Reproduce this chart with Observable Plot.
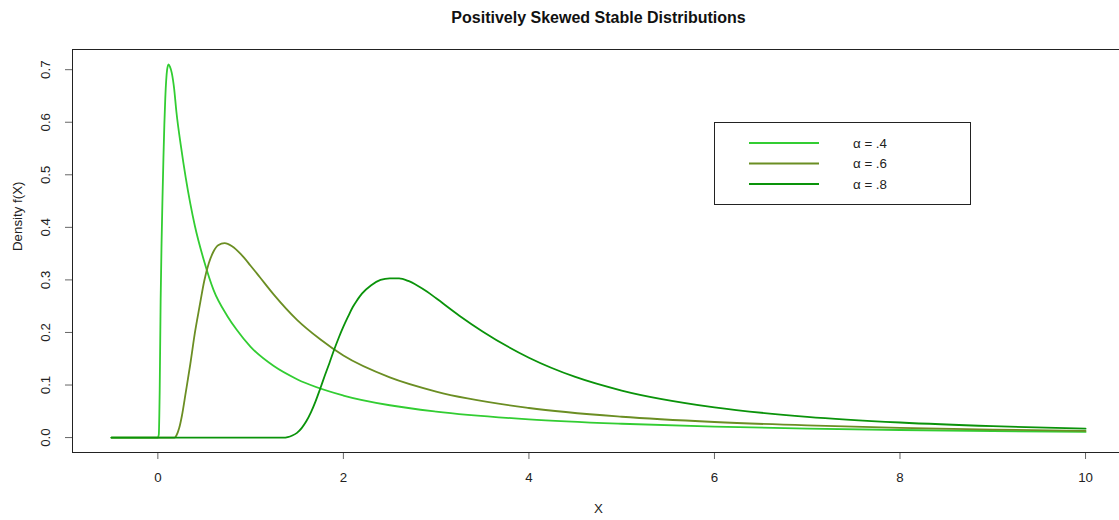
<!DOCTYPE html>
<html>
<head>
<meta charset="utf-8">
<script src="https://cdn.jsdelivr.net/npm/d3@7"></script>
<script src="https://cdn.jsdelivr.net/npm/@observablehq/plot@0.6"></script>
<style>
html, body { margin: 0; padding: 0; background: #fff; overflow: hidden; }
#chart { position: relative; width: 1119px; height: 520px; }
</style>
</head>
<body>
<div id="chart"></div>
<script>
// ---- text ----
const title = "Positively Skewed Stable Distributions";
const xLabel = "X";
const yLabel = "Density f(X)";
const seriesNames = ["α = .4", "α = .6", "α = .8"];
const seriesColors = ["#32cd32", "#6b8e23", "#0a930a"];

// ---- series values ----
const x04 = [-0.5, 0, 0.01, 0.02, 0.03, 0.04, 0.05, 0.06, 0.07, 0.08, 0.09, 0.10, 0.115, 0.13, 0.15, 0.175, 0.2, 0.25, 0.3, 0.35, 0.4, 0.5, 0.6, 0.75, 0.85, 1, 1.25, 1.5, 2, 2.5, 3, 4, 5, 6, 7, 8, 9, 10];
const y04 = [0, 0, 0.005, 0.09, 0.26, 0.37, 0.455, 0.53, 0.595, 0.645, 0.68, 0.70, 0.71, 0.706, 0.694, 0.665, 0.62, 0.553, 0.495, 0.445, 0.402, 0.335, 0.281, 0.231, 0.205, 0.1725, 0.136, 0.111, 0.080, 0.0615, 0.0495, 0.0347, 0.0263, 0.0209, 0.0171, 0.0144, 0.0125, 0.0108];

const x06 = [-0.5, 0.18, 0.20, 0.23, 0.26, 0.30, 0.35, 0.40, 0.45, 0.50, 0.55, 0.60, 0.65, 0.72, 0.80, 0.90, 1.0, 1.1, 1.25, 1.5, 1.75, 2, 2.5, 3, 4, 5, 6, 7, 8, 9, 10];
const y06 = [0, 0, 0.004, 0.018, 0.042, 0.085, 0.140, 0.200, 0.250, 0.298, 0.332, 0.354, 0.366, 0.370, 0.364, 0.348, 0.327, 0.305, 0.272, 0.224, 0.187, 0.156, 0.1145, 0.0875, 0.0563, 0.0396, 0.0296, 0.0231, 0.0186, 0.0153, 0.0129];

const x08 = [-0.5, 1.35, 1.40, 1.45, 1.50, 1.55, 1.60, 1.65, 1.70, 1.75, 1.80, 1.85, 1.90, 1.95, 2.0, 2.05, 2.1, 2.15, 2.2, 2.3, 2.4, 2.5, 2.6, 2.7, 2.8, 2.9, 3.0, 3.25, 3.5, 4, 4.5, 5, 6, 7, 8, 9, 10];
const y08 = [0, 0, 0.001, 0.004, 0.009, 0.018, 0.031, 0.048, 0.069, 0.093, 0.118, 0.142, 0.167, 0.190, 0.211, 0.230, 0.248, 0.262, 0.274, 0.290, 0.300, 0.303, 0.303, 0.298, 0.289, 0.278, 0.265, 0.232, 0.202, 0.152, 0.1154, 0.0895, 0.0574, 0.0395, 0.0287, 0.0217, 0.0170];

// ---- ticks ----
const xTicks = [0, 2, 4, 6, 8, 10];
const yTicks = [0, 0.1, 0.2, 0.3, 0.4, 0.5, 0.6, 0.7];
const legendAt = [6, 0.6];

// ---- table ----
const rows = [];
[[x04, y04], [x06, y06], [x08, y08]].forEach(([xs, ys], i) => {
  xs.forEach((x, j) => rows.push({series: seriesNames[i], x, y: ys[j]}));
});

// R-style 4% axis extension
const xr = [-0.5, 10], yr = [0, 0.71];
const xPad = (xr[1] - xr[0]) * 0.04, yPad = (yr[1] - yr[0]) * 0.04;

const font = "'Liberation Sans', Arial, sans-serif";
const baseSize = 13.3;

const plot = Plot.plot({
  width: 1119,
  height: 520,
  marginLeft: 72,
  marginRight: -5,
  marginTop: 49,
  marginBottom: 68,
  style: {fontFamily: font, fontSize: baseSize + "px", color: "#222", background: "white"},
  x: {domain: [xr[0] - xPad, xr[1] + xPad]},
  y: {domain: [yr[0] - yPad, yr[1] + yPad]},
  color: {domain: seriesNames, range: seriesColors},
  marks: [
    Plot.axisX({ticks: xTicks, tickSize: 7, tickPadding: 13, tickFormat: d3.format("d"), label: null, stroke: "#666", fontSize: baseSize}),
    Plot.axisY({ticks: yTicks, tickSize: 7, tickRotate: -90, tickPadding: 15.5, tickFormat: d3.format(".1f"), label: null, stroke: "#666", fontSize: baseSize}),
    Plot.line(rows, {x: "x", y: "y", z: "series", stroke: "series", strokeWidth: 1.8, curve: "monotone-x"}),
    Plot.frame({stroke: "#222"}),
    Plot.text([title], {frameAnchor: "top", lineAnchor: "middle", dy: -31.5, fontWeight: "bold", fontSize: 16, fill: "#111"}),
    Plot.text([xLabel], {frameAnchor: "bottom", lineAnchor: "middle", dy: 56, fontSize: baseSize}),
    Plot.text([yLabel], {frameAnchor: "left", lineAnchor: "middle", dx: -55, rotate: -90, fontSize: baseSize})
  ]
});

document.getElementById("chart").appendChild(plot);

// ---- legend placed at data coordinates (6, 0.6), like R's legend(x, y) ----
const sx = plot.scale("x"), sy = plot.scale("y");
const lx = Math.round(sx.apply(legendAt[0])), ly = Math.round(sy.apply(legendAt[1]));
const svg = d3.select(plot);
const g = svg.append("g").attr("font-family", font).attr("font-size", baseSize).attr("text-anchor", "start");
g.append("rect").attr("x", lx + 0.5).attr("y", ly + 0.5).attr("width", 256).attr("height", 82)
  .attr("fill", "white").attr("stroke", "#222");
seriesNames.forEach((name, i) => {
  const yy = ly + 21 + i * 20.5;
  g.append("line").attr("x1", lx + 35).attr("x2", lx + 105).attr("y1", yy).attr("y2", yy)
    .attr("stroke", seriesColors[i]).attr("stroke-width", 2);
  g.append("text").attr("x", lx + 139).attr("y", yy).attr("dy", "0.35em").attr("fill", "#222").text(name);
});
</script>
</body>
</html>
